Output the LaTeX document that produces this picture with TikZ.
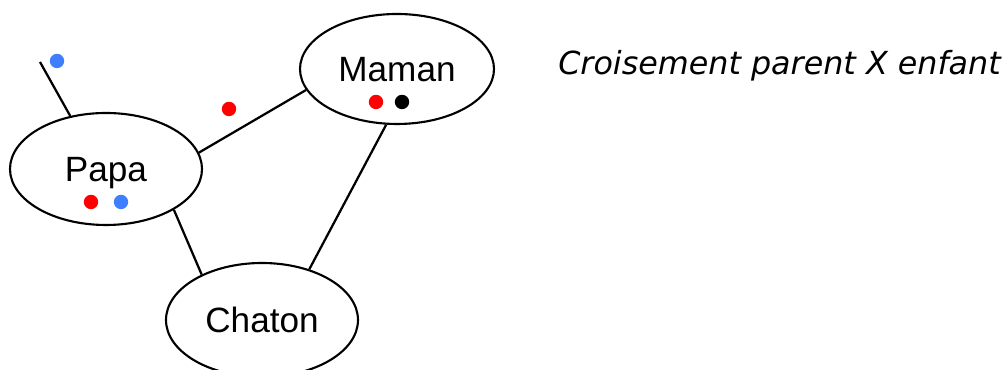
\documentclass[tikz,border=0pt]{standalone}
\usepackage{fontspec}
\usetikzlibrary{shapes.geometric}
\setmainfont{Liberation Sans}
\newfontfamily\titlefont{DejaVu Sans}
\definecolor{geneblue}{HTML}{3F7FFF}
\definecolor{genered}{HTML}{FF0000}

\begin{document}
\begin{tikzpicture}[
    individu/.style={draw, line width=1.5pt, ellipse, inner sep=0pt, text depth=0pt,
      minimum width=4.8cm, minimum height=2.8cm, font=\fontsize{25}{30}\selectfont},
    gene/.style={circle, fill=#1, inner sep=0pt, minimum size=0.36cm},
    lien/.style={line width=1.6pt}]

      \useasboundingbox (0, 0) rectangle (25.2, 9.25);

      % Draw the three individuals
      \node[individu] (papa) at (2.65, 5.025) {Papa};
      \node[individu, minimum width=4.85cm, minimum height=2.75cm] (maman) at (9.925, 7.525) {Maman};
      \node[individu, minimum height=2.85cm] (chaton) at (6.55, 1.25) {Chaton};

      % Links between parents and child
      \coordinate (ancetre) at (1.0, 7.7);
      \draw[lien] (ancetre) -- (papa.124);
      \draw[lien] (papa.10) -- (maman.193);
      \draw[lien] (papa.-31) -- (chaton.143);
      \draw[lien] (maman.259) -- (chaton.47);

      % Alleles carried by each one
      \node[gene=geneblue] (g1) at (1.425, 7.725) {};
      \node[gene=genered] (g2) at (5.725, 6.525) {};
      \node[gene=genered] (g3) at (9.4, 6.7) {};
      \node[gene=black] (g4) at (10.05, 6.7) {};
      \node[gene=genered] (g5) at (2.275, 4.2) {};
      \node[gene=geneblue] (g6) at (3.025, 4.2) {};

      % Title
      \node[anchor=base west, inner sep=0pt, font=\titlefont\itshape\fontsize{22.6}{27}\selectfont]
        (titre) at (13.95, 7.375) {Croisement parent X enfant};
    \end{tikzpicture}
\end{document}
